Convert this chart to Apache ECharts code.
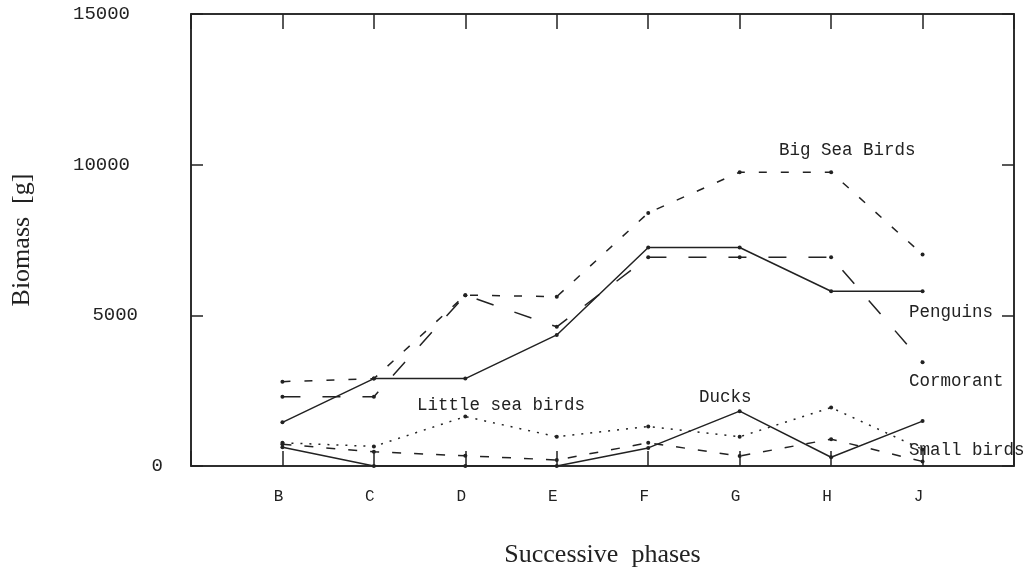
<!DOCTYPE html>
<html>
<head>
<meta charset="utf-8">
<script src="https://cdn.jsdelivr.net/npm/echarts@6/dist/echarts.min.js"></script>
<style>
  html, body { margin: 0; padding: 0; background: #fff; }
  #chart { width: 1028px; height: 568px; }
</style>
</head>
<body>
<div id="chart"></div>
<script>
// phases on the x axis (positions 1..8)
var phases = ['B', 'C', 'D', 'E', 'F', 'G', 'H', 'J'];
var yTicks = [0, 5000, 10000, 15000];

// biomass [g] per phase
var penguins = [1450, 2900, 2900, 4350, 7250, 7250, 5800, 5800];
var bigSeaBirds = [2800, 2900, 5670, 5620, 8400, 9750, 9750, 7020];
var cormorant = [2300, 2300, 5670, 4620, 6930, 6930, 6930, 3440];
var littleSeaBirds = [770, 650, 1640, 970, 1310, 970, 1940, 550];
var ducks = [620, 0, 0, 0, 600, 1820, 290, 1490];
var smallBirds = [720, 470, 340, 200, 770, 330, 890, 150];

var ink = '#222';
var mono = '"Liberation Mono", "DejaVu Sans Mono", monospace';
var serif = '"Liberation Serif", "DejaVu Serif", serif';

function pts(arr) {
	var out = [];
	for (var i = 0; i < arr.length; i++) {
		out.push([i + 1, arr[i]]);
	}
	return out;
}

function lineSeries(name, arr, dash) {
	return {
		name: name,
		type: 'line',
		data: pts(arr),
		symbol: 'circle',
		symbolSize: 4,
		itemStyle: { color: ink },
		lineStyle: { color: ink, width: 1.5, type: dash },
		silent: true
	};
}

// per-label right padding of the y tick labels (they are staggered in the original)
var yPad = { 0: 0, 5000: 25, 10000: 33, 15000: 33 };
var yRich = {};
for (var k = 0; k < yTicks.length; k++) {
	yRich['t' + yTicks[k]] = {
		fontFamily: mono, fontSize: 19, color: ink,
		padding: [0, yPad[yTicks[k]], 0, 0]
	};
}

function tag(text, x, y) {
	return {
		type: 'text', x: x, y: y, silent: true,
		style: { text: text, font: '17.5px ' + mono, fill: ink, align: 'left', verticalAlign: 'middle' }
	};
}

var frameLine = { show: true, onZero: false, lineStyle: { color: ink, width: 1.5 } };

var option = {
	backgroundColor: '#fff',
	animation: false,
	grid: {
		left: 191, right: 14, top: 14, bottom: 102,
		outerBoundsMode: 'none', containLabel: false,
		show: true, borderColor: ink, borderWidth: 1.5
	},
	xAxis: [
		{
			type: 'value', min: 0, max: 9, interval: 1, position: 'bottom',
			name: 'Successive  phases', nameLocation: 'middle', nameGap: 76,
			nameTextStyle: { fontFamily: serif, fontSize: 26, color: ink },
			axisLine: frameLine,
			axisTick: { inside: true, length: 15, lineStyle: { color: ink, width: 1.5 } },
			axisLabel: {
				margin: 23,
				formatter: function (v) {
					var p = phases[v - 1];
					return p ? '{p|' + p + '}' : '';
				},
				rich: { p: { fontFamily: mono, fontSize: 16, color: ink, padding: [0, 8, 0, 0] } }
			},
			splitLine: { show: false }
		},
		{
			type: 'value', min: 0, max: 9, interval: 1, position: 'top',
			axisLine: frameLine,
			axisTick: { inside: true, length: 15, lineStyle: { color: ink, width: 1.5 } },
			axisLabel: { show: false },
			splitLine: { show: false }
		}
	],
	yAxis: [
		{
			type: 'value', min: 0, max: 15000, interval: 5000, position: 'left',
			name: 'Biomass  [g]', nameLocation: 'middle', nameGap: 156,
			nameTextStyle: { fontFamily: serif, fontSize: 26, color: ink },
			axisLine: frameLine,
			axisTick: { inside: true, length: 12, lineStyle: { color: ink, width: 1.5 } },
			axisLabel: {
				margin: 28,
				formatter: function (v) { return '{t' + v + '|' + v + '}'; },
				rich: yRich
			},
			splitLine: { show: false }
		},
		{
			type: 'value', min: 0, max: 15000, interval: 5000, position: 'right',
			axisLine: frameLine,
			axisTick: { inside: true, length: 12, lineStyle: { color: ink, width: 1.5 } },
			axisLabel: { show: false },
			splitLine: { show: false }
		}
	],
	series: [
		lineSeries('Penguins', penguins, 'solid'),
		lineSeries('Big Sea Birds', bigSeaBirds, [8, 14]),
		lineSeries('Cormorant', cormorant, [18, 22]),
		lineSeries('Little sea birds', littleSeaBirds, [2, 7]),
		lineSeries('Ducks', ducks, 'solid'),
		lineSeries('Small birds', smallBirds, [9, 13])
	],
	graphic: [
		tag('Big Sea Birds', 779, 150),
		tag('Penguins', 909, 312),
		tag('Cormorant', 909, 381),
		tag('Little sea birds', 417, 405),
		tag('Ducks', 699, 397),
		tag('Small birds', 909, 450)
	]
};

var myChart = echarts.init(document.getElementById('chart'));
myChart.setOption(option);
</script>
</body>
</html>
